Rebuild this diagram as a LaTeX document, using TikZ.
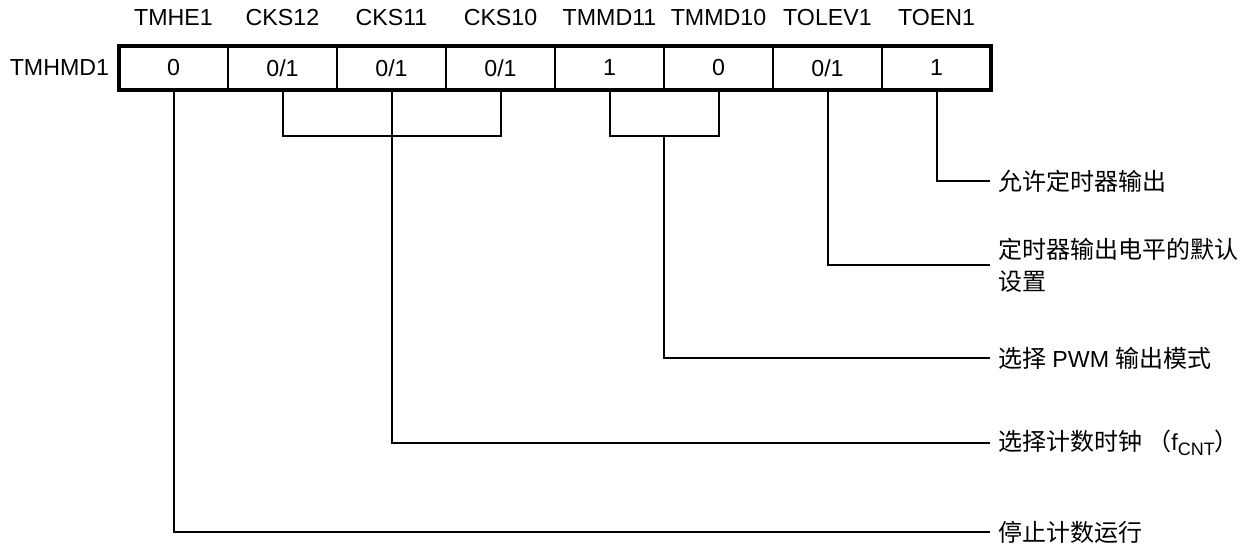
\documentclass[tikz,border=0pt]{standalone}
\usepackage{fontspec}
\setmainfont{Liberation Sans}
\newfontfamily\cjk{Noto Sans CJK SC}
\begin{document}
\begin{tikzpicture}[x=0.5pt,y=-0.5pt,
  txt/.style={font=\fontsize{11.6}{16}\selectfont, inner sep=0pt, outer sep=0pt},
  cell/.style={draw, line width=1pt, minimum width=54.5pt, minimum height=22pt, inner sep=0pt, outer sep=0pt, font=\fontsize{11.6}{13}\selectfont},
  conn/.style={line width=1pt},
  desc/.style={inner sep=0pt, outer sep=0pt, font=\fontsize{11.6}{16}\selectfont, anchor=west, align=left},
  cdesc/.style={desc, font=\fontsize{12}{16}\selectfont\cjk}]
\useasboundingbox (0,0) rectangle (1243,545);
% register cells
\foreach \i/\v in {0/0,1/0\slash 1,2/0\slash 1,3/0\slash 1,4/1,5/0,6/0\slash 1,7/1}{
  \node[cell] (c\i) at ({119+109*(\i+0.5)},68) {\v};
}
\draw[line width=1.6pt] (c0.north west) rectangle (c7.south east);
% bit names
\foreach \i/\n in {0/TMHE1,1/CKS12,2/CKS11,3/CKS10,4/TMMD11,5/TMMD10,6/TOLEV1,7/TOEN1}{
  \node[txt] (t\i) at ({119+109*(\i+0.5)},18) {\n};
}
\node[txt, anchor=east] (reg) at (109,68) {TMHMD1};
% descriptions
\node[cdesc] (l1) at (998,181) {允许定时器输出};
\node[cdesc] (l2) at (998,265) {定时器输出电平的默认\\设置};
\node[desc] (l3) at (998,358) {{\fontsize{12}{16}\selectfont\cjk 选择} PWM {\fontsize{12}{16}\selectfont\cjk 输出模式}};
\node[desc] (l4) at (998,443) {{\fontsize{12}{16}\selectfont\cjk 选择计数时钟 （}f\raisebox{-0.45ex}{\fontsize{9}{9}\selectfont CNT}{\fontsize{12}{16}\selectfont\cjk ）}};
\node[cdesc] (l5) at (998,532) {停止计数运行};
% brackets
\coordinate (bk1) at (391.5,136);
\coordinate (bk2) at (664,136);
\draw[conn] (c1.south) |- (bk1) -| (c3.south);
\draw[conn] (c4.south) |- (bk2) -| (c5.south);
% connectors
\draw[conn] (c7.south) |- ([xshift=-4pt]l1.west);
\draw[conn] (c6.south) |- ([xshift=-4pt]l2.west);
\draw[conn] (bk2) |- ([xshift=-4pt]l3.west);
\draw[conn] (c2.south) |- ([xshift=-4pt]l4.west);
\draw[conn] (c0.south) |- ([xshift=-4pt]l5.west);
\end{tikzpicture}
\end{document}
